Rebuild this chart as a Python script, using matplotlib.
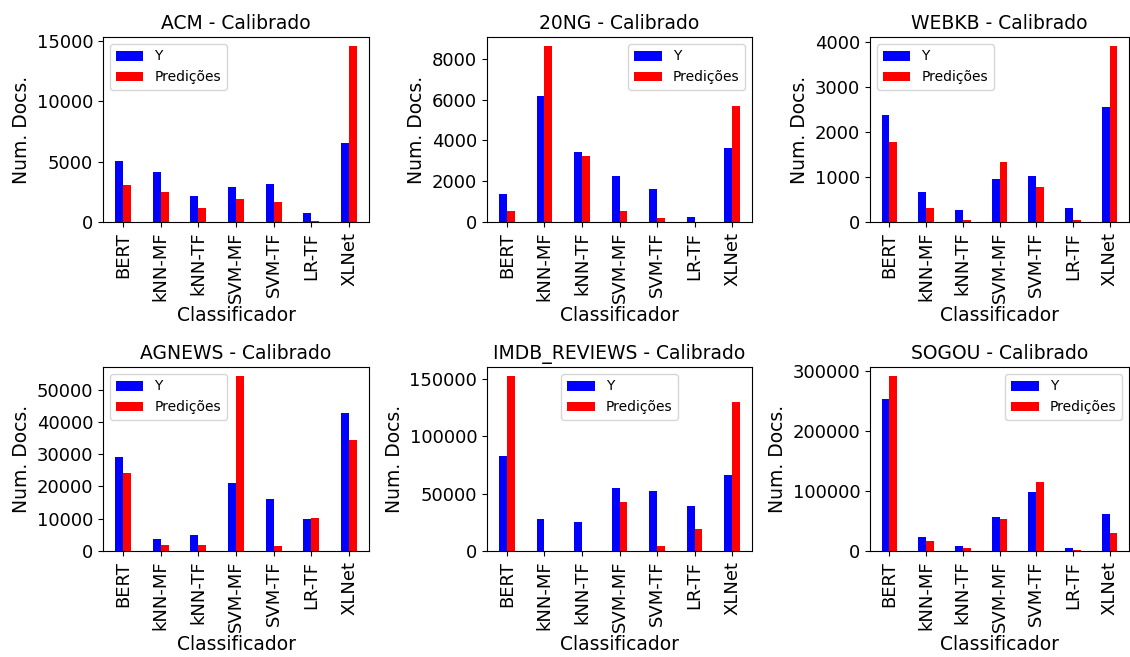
import numpy as np
from matplotlib import pyplot as plt
from matplotlib.ticker import MultipleLocator

classificadores = ["BERT", "kNN-MF", "kNN-TF", "SVM-MF", "SVM-TF", "LR-TF", "XLNet"]

acm_y = [5080, 4170, 2180, 2930, 3180, 770, 6580]
acm_pred = [3040, 2510, 1190, 1930, 1690, 110, 14610]

ng20_y = [1390, 6190, 3450, 2270, 1630, 260, 3640]
ng20_pred = [555, 8640, 3250, 555, 210, 10, 5700]

webkb_y = [2380, 673, 273, 961, 1027, 318, 2557]
webkb_pred = [1781, 318, 52, 1338, 783, 52, 3910]

agnews_y = [29010, 3700, 4940, 20990, 16050, 9880, 42900]
agnews_pred = [24070, 1850, 1850, 54320, 1540, 10190, 34260]

imdb_y = [82370, 27750, 25140, 54620, 52020, 39020, 65900]
imdb_pred = [152600, 0, 0, 42490, 4340, 19080, 130060]

sogou_y = [253600, 23200, 8300, 56350, 97800, 5000, 61300]
sogou_pred = [291700, 16600, 5000, 53000, 114400, 1700, 29800]

datasets = [
    ("ACM", acm_y, acm_pred, "upper left", 5000),
    ("20NG", ng20_y, ng20_pred, "upper right", 2000),
    ("WEBKB", webkb_y, webkb_pred, "upper left", 1000),
    ("AGNEWS", agnews_y, agnews_pred, "upper left", 10000),
    ("IMDB_REVIEWS", imdb_y, imdb_pred, "upper center", 50000),
    ("SOGOU", sogou_y, sogou_pred, "upper right", 100000),
]

W, H = 1130, 657
# axes boxes in pixels: left, right, top, bottom
boxes = [
    (103, 369, 37, 222),
    (487, 752, 37, 222),
    (870, 1129, 37, 222),
    (103, 369, 367, 551),
    (487, 752, 367, 551),
    (870, 1129, 367, 551),
]

fig = plt.figure(figsize=(W / 100, H / 100), dpi=100)
x = np.arange(len(classificadores))
w = 0.21

for (nome, y, pred, loc, passo), (l, r, t, b) in zip(datasets, boxes):
    ax = fig.add_axes([l / W, 1 - b / H, (r - l) / W, (b - t) / H])
    ax.bar(x - w / 2, y, w, color="blue", label="Y")
    ax.bar(x + w / 2, pred, w, color="red", label="Predições")
    ax.set_xlim(-0.53, len(classificadores) - 0.47)
    ax.set_xticks(x)
    ax.set_xticklabels(classificadores, rotation=90, fontsize=13)
    ax.yaxis.set_major_locator(MultipleLocator(passo))
    ax.tick_params(axis="y", labelsize=13)
    ax.set_title(nome + " - Calibrado", fontsize=13.5)
    ax.set_xlabel("Classificador", fontsize=13.5, labelpad=2)
    ax.set_ylabel("Num. Docs.", fontsize=13.5)
    ax.legend(loc=loc, fontsize=10)

fig.savefig("out.png", dpi=100)
